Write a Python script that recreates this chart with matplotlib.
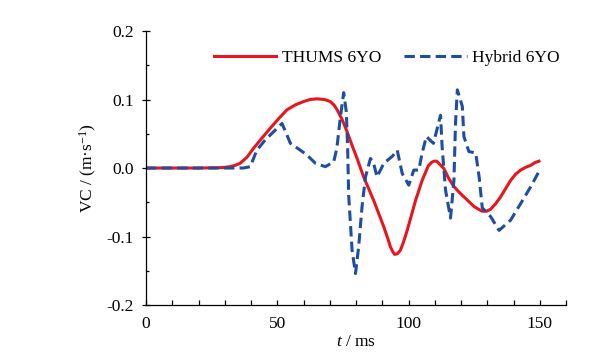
import numpy as np
import matplotlib
matplotlib.use("Agg")
import matplotlib.pyplot as plt
from matplotlib.ticker import MultipleLocator, FormatStrFormatter

plt.rcParams['font.family'] = ['Liberation Serif', 'DejaVu Serif']
plt.rcParams['mathtext.fontset'] = 'custom'
plt.rcParams['mathtext.rm'] = 'Liberation Serif'
plt.rcParams['mathtext.it'] = 'Liberation Serif:italic'
plt.rcParams['axes.unicode_minus'] = False

# THUMS 6YO (solid red)
thums_t = [0, 10, 20, 28, 30, 32, 34, 35.9, 38.5, 41, 44, 47.3, 50.5, 53.7, 56.8, 60,
           62.5, 65.1, 68, 70.2, 71.6, 72.8, 74.8, 76.6, 78.5, 80.4, 82.9, 86.7, 90.6,
           92.2, 93.1, 94, 94.7, 95.8, 96.9, 98, 99.5, 102.7, 105.2, 107.5, 108.7,
           109.7, 110.7, 111.5, 113.5, 115.3, 117.3, 119.2, 121.1, 124.9, 126.6,
           128.1, 129.8, 131.3, 133.2, 135.1, 138.9, 140.8, 142.7, 144.6, 146.6,
           148.2, 149.7]
thums_vc = [0, 0, 0, 0.0005, 0.001, 0.002, 0.004, 0.007, 0.016, 0.029, 0.043, 0.058,
            0.072, 0.085, 0.092, 0.097, 0.100, 0.101, 0.100, 0.097, 0.092, 0.085,
            0.070, 0.053, 0.033, 0.014, -0.013, -0.047, -0.086, -0.104, -0.115,
            -0.122, -0.126, -0.125, -0.12, -0.109, -0.091, -0.047, -0.018, 0.003,
            0.008, 0.010, 0.010, 0.007, -0.001, -0.015, -0.027, -0.035, -0.042,
            -0.056, -0.060, -0.063, -0.063, -0.060, -0.052, -0.042, -0.018, -0.009,
            -0.003, 0.001, 0.004, 0.008, 0.010]

# Hybrid 6YO (dashed blue)
hybrid_t = [0, 20, 37, 39.7, 42.2, 45.4, 48.6, 51.8, 53.7, 55, 58.8, 61.3, 64.5, 68.3,
            71.5, 72.7, 74, 75.3, 76.3, 76.8, 77.2, 78.5, 79.8, 81, 82.3, 83.6, 85.5,
            86.7, 88, 90.6, 93.8, 95.7, 97.6, 100.1, 102, 103.9, 105.2, 106.8, 109.5,
            112.2, 112.8, 114.1, 116, 117.3, 117.9, 118.6, 120.5, 121.1, 123, 125.6,
            126.9, 128.1, 131.3, 134.5, 138.9, 142.7, 146.6, 149.7]
hybrid_vc = [0, 0, 0, 0.002, 0.026, 0.041, 0.053, 0.065, 0.048, 0.036, 0.026, 0.019,
             0.007, 0.002, 0.009, 0.029, 0.073, 0.11, 0.082, 0.03, -0.04, -0.12,
             -0.154, -0.115, -0.056, -0.013, 0.014, 0.007, -0.013, 0.007, 0.017,
             0.026, -0.008, -0.025, -0.003, -0.003, 0.022, 0.046, 0.036, 0.077,
             0.031, -0.032, -0.073, -0.018, 0.065, 0.114, 0.09, 0.046, 0.024, 0.022,
             -0.013, -0.058, -0.071, -0.091, -0.076, -0.052, -0.027, -0.005]

fig = plt.figure(figsize=(6.06, 3.56), dpi=100)
ax = fig.add_axes([0.241, 0.143, 0.693, 0.770])

ax.plot(thums_t, thums_vc, color='#e8161c', lw=2.2, label='THUMS 6YO',
        solid_joinstyle='round')
ax.plot(hybrid_t, hybrid_vc, color='#1f4ea0', lw=2.2, ls=(0, (3.4, 1.7)),
        label='Hybrid 6YO')

ax.set_xlim(0, 160)
ax.set_ylim(-0.2, 0.2)
ax.set_xticks([0, 50, 100, 150])
ax.xaxis.set_minor_locator(MultipleLocator(10))
ax.yaxis.set_major_locator(MultipleLocator(0.1))
ax.yaxis.set_minor_locator(MultipleLocator(0.05))
ax.yaxis.set_major_formatter(FormatStrFormatter('%.1f'))

for s in ['top', 'right']:
    ax.spines[s].set_visible(False)
for s in ['left', 'bottom']:
    ax.spines[s].set_linewidth(0.9)

ax.tick_params(axis='x', which='both', direction='in', length=3.3, width=0.9,
               labelsize=12.5, pad=8)
ax.tick_params(axis='y', which='major', direction='inout', length=6, width=0.9,
               labelsize=12.5, pad=6)
ax.tick_params(axis='y', which='minor', direction='in', length=2.5, width=0.9)

ax.set_xlabel('$t$ / ms', fontsize=12.5, labelpad=1)
ax.set_ylabel('VC / (m·s$^{-1}$)', fontsize=12.5, labelpad=5)

ax.legend(loc='center right', bbox_to_anchor=(0.985, 0.90), ncol=2, frameon=False,
          fontsize=12.5, handlelength=3.6, handletextpad=0.3, columnspacing=1.35,
          borderpad=0, borderaxespad=0)

fig.savefig('out.png', dpi=100)
